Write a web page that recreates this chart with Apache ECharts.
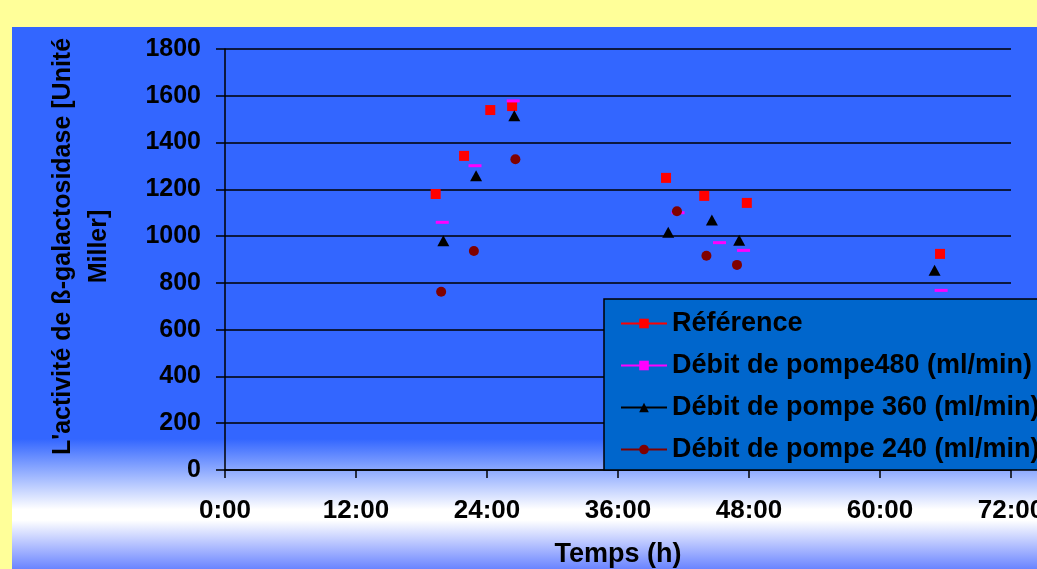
<!DOCTYPE html>
<html>
<head>
<meta charset="utf-8">
<script src="https://cdn.jsdelivr.net/npm/echarts@6/dist/echarts.min.js"></script>
<style>
  html, body { margin: 0; padding: 0; width: 1037px; height: 569px; overflow: hidden; background: #FFFF99; }
  #panel { position: absolute; left: 12px; top: 27px; width: 1025px; height: 542px;
    background: linear-gradient(to bottom, #3366FF 0%, #3366FF 76%, #ffffff 89%, #ffffff 91%, #6a84ff 100%); }
  #chart { position: absolute; left: 0; top: 0; width: 1037px; height: 569px; }
</style>
</head>
<body>
<div id="panel"></div>
<div id="chart"></div>
<script>
// Time in hours, activity in Miller units
const seriesNames = ['Référence', 'Débit de pompe480 (ml/min)', 'Débit de pompe 360 (ml/min)', 'Débit de pompe 240 (ml/min)'];
const refX = [19.3, 21.9, 24.3, 26.3, 40.4, 43.9, 47.8, 65.5];
const refY = [1180, 1343, 1539, 1556, 1249, 1172, 1142, 924];
const p480X = [19.9, 22.9, 26.4, 41.5, 45.3, 47.5, 65.6];
const p480Y = [1059, 1301, 1578, 1100, 972, 939, 768];
const p360X = [20.0, 23.0, 26.5, 40.6, 44.6, 47.1, 65.0];
const p360Y = [980, 1258, 1515, 1016, 1069, 982, 854];
const p240X = [19.8, 22.8, 26.6, 41.4, 44.1, 46.9];
const p240Y = [762, 936, 1329, 1106, 916, 877];
const xTicks = [0, 12, 24, 36, 48, 60, 72];
const yTicks = [0, 200, 400, 600, 800, 1000, 1200, 1400, 1600, 1800];

const FONT = '"Liberation Sans", Arial, sans-serif';
function pairs(xs, ys) { return xs.map((x, i) => [x, ys[i]]); }

const styles = [
  { color: '#FF0000', symbol: 'rect', symbolSize: 10 },
  { color: '#FF00FF', symbol: 'rect', symbolSize: [13, 3] },
  { color: '#000000', symbol: 'triangle', symbolSize: [12, 11] },
  { color: '#800000', symbol: 'circle', symbolSize: 10 }
];
const datasets = [pairs(refX, refY), pairs(p480X, p480Y), pairs(p360X, p360Y), pairs(p240X, p240Y)];

const chart = echarts.init(document.getElementById('chart'), null, { renderer: 'canvas' });
chart.setOption({
  backgroundColor: 'transparent',
  animation: false,
  grid: { left: 225, right: 26, top: 49, bottom: 99, containLabel: false, outerBoundsMode: 'none' },
  xAxis: {
    type: 'value', min: 0, max: 72, interval: 12,
    name: 'Temps (h)', nameLocation: 'middle', nameGap: 71,
    nameTextStyle: { fontFamily: FONT, fontWeight: 'bold', fontSize: 27, color: '#000' },
    axisLine: { show: true, lineStyle: { color: '#000', width: 1.5 } },
    axisTick: { show: true, inside: false, length: 8, lineStyle: { color: '#000', width: 1.5 } },
    axisLabel: { margin: 28, fontFamily: FONT, fontWeight: 'bold', fontSize: 26, color: '#000',
      formatter: v => xTicks.includes(v) ? v + ':00' : '' },
    splitLine: { show: false }
  },
  yAxis: {
    type: 'value', min: 0, max: 1800, interval: 200,
    name: "L'activité de ß-galactosidase [Unité\nMiller]", nameLocation: 'middle', nameGap: 108, nameRotate: 90,
    nameTextStyle: { fontFamily: FONT, fontWeight: 'bold', fontSize: 25, color: '#000', lineHeight: 36, padding: [0, 0, 0, 26] },
    axisLine: { show: true, lineStyle: { color: '#000', width: 1.5 } },
    axisTick: { show: true, inside: false, length: 9, lineStyle: { color: '#000', width: 1.5 } },
    axisLabel: { margin: 24, fontFamily: FONT, fontWeight: 'bold', fontSize: 25, color: '#000',
      formatter: v => yTicks.includes(v) ? String(v) : '' },
    splitLine: { show: true, lineStyle: { color: '#000', width: 1.5 } }
  },
  legend: {
    orient: 'vertical', left: 604, top: 299,
    padding: [11, 10, 7, 16], itemGap: 15, itemWidth: 46, itemHeight: 12,
    backgroundColor: '#0066CC', borderColor: '#000', borderWidth: 1.5,
    lineStyle: { width: 2, opacity: 1 },
    textStyle: { fontFamily: FONT, fontWeight: 'bold', fontSize: 27, color: '#000' },
    data: seriesNames
  },
  series: datasets.map((d, i) => ({
    name: seriesNames[i], type: 'line', data: d,
    symbol: styles[i].symbol, symbolSize: styles[i].symbolSize, showSymbol: true,
    itemStyle: { color: styles[i].color },
    lineStyle: { color: styles[i].color, width: 0, opacity: 0 },
    z: 2 + i
  }))
});
</script>
</body>
</html>
